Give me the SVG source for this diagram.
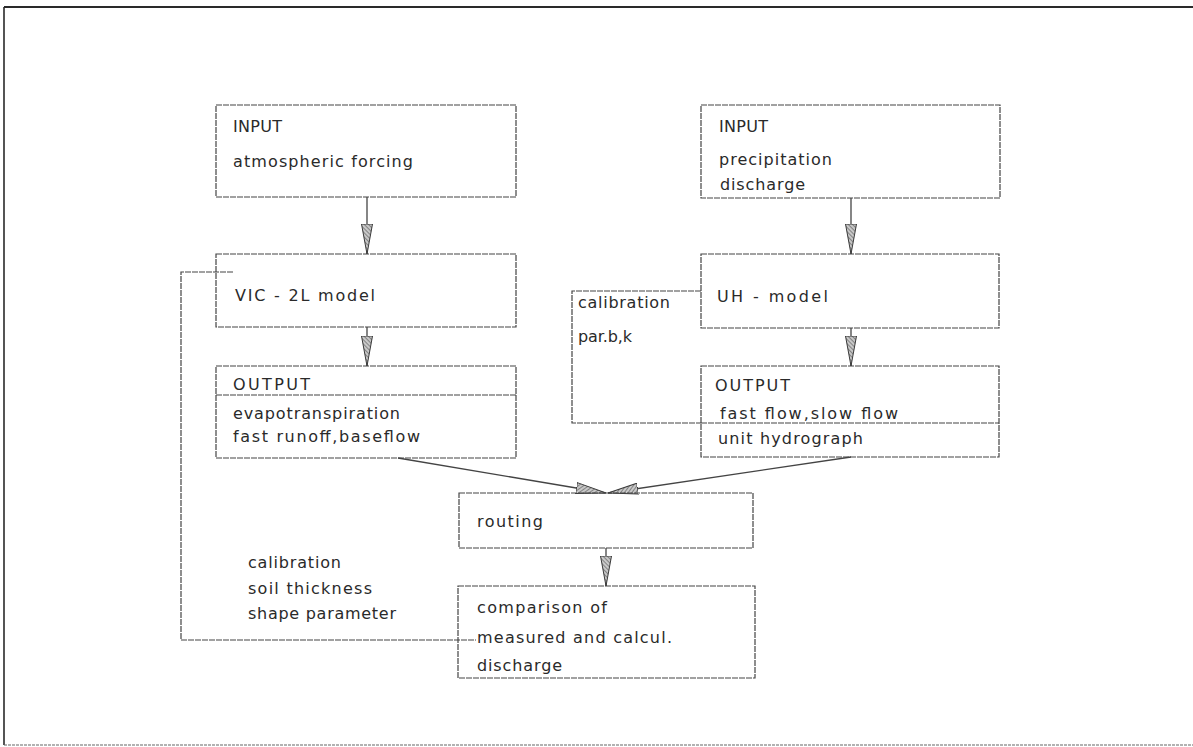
<svg xmlns="http://www.w3.org/2000/svg" width="1193" height="747" viewBox="0 0 1193 747">
<style>
.box{fill:none;stroke:#444;stroke-width:1.2;stroke-dasharray:6 1}
.t{font-family:"DejaVu Sans","Liberation Sans",sans-serif;font-size:16px;fill:#2a2a2a}
.c{fill:none;stroke:#444;stroke-width:1.2;stroke-dasharray:6 1}
.ca{fill:none;stroke:#444;stroke-width:1.3;marker-end:url(#ah)}
</style>
<defs>
<pattern id="hatch" width="3" height="3" patternUnits="userSpaceOnUse" patternTransform="rotate(45)">
<rect width="3" height="3" fill="#c8c8c8"/>
<line x1="0" y1="0" x2="0" y2="3" stroke="#555" stroke-width="1.2"/>
</pattern>
<marker id="ah" viewBox="0 0 30 12" refX="30" refY="6" markerWidth="30" markerHeight="12" markerUnits="userSpaceOnUse" orient="auto">
<path d="M0,0.5 L30,6 L0,11.5 Z" fill="url(#hatch)" stroke="#3a3a3a" stroke-width="1"/>
</marker>
</defs>
<rect width="1193" height="747" fill="#ffffff"/>
<g id="frame">
<line x1="4" y1="7" x2="1193" y2="7" stroke="#2a2a2a" stroke-width="2"/>
<line x1="4" y1="7" x2="4" y2="745" stroke="#2a2a2a" stroke-width="1.6"/>
<line x1="4" y1="745" x2="1193" y2="745" stroke="#666" stroke-width="1.2" stroke-dasharray="3 1"/>
</g>
<g id="connectors">
<line class="ca" x1="367" y1="197" x2="367" y2="254"/>
<line class="ca" x1="851" y1="198" x2="851" y2="254"/>
<line class="ca" x1="367" y1="327" x2="367" y2="366"/>
<line class="ca" x1="851" y1="328" x2="851" y2="366"/>
<line class="ca" x1="398" y1="458" x2="606" y2="493"/>
<line class="ca" x1="851" y1="457" x2="608" y2="493"/>
<line class="ca" x1="606" y1="548" x2="606" y2="586"/>
<polyline class="c" points="233,272 181,272 181,640 476,640"/>
<polyline class="c" points="701,291 572,291 572,423 701,423"/>
</g>
<g id="input-left">
<rect class="box" x="216" y="105" width="300" height="92"/>
<text class="t" x="233" y="132" textLength="49" lengthAdjust="spacing">INPUT</text>
<text class="t" x="233" y="167" textLength="180" lengthAdjust="spacing">atmospheric forcing</text>
</g>
<g id="input-right">
<rect class="box" x="701" y="105" width="299" height="93"/>
<text class="t" x="719" y="132" textLength="49" lengthAdjust="spacing">INPUT</text>
<text class="t" x="719" y="165" textLength="113" lengthAdjust="spacing">precipitation</text>
<text class="t" x="720" y="190" textLength="85" lengthAdjust="spacing">discharge</text>
</g>
<g id="vic-model">
<rect class="box" x="216" y="254" width="300" height="73"/>
<text class="t" x="235" y="301" textLength="140" lengthAdjust="spacing">VIC - 2L model</text>
</g>
<g id="uh-model">
<rect class="box" x="701" y="254" width="298" height="74"/>
<text class="t" x="717" y="302" textLength="111" lengthAdjust="spacing">UH -  model</text>
</g>
<g id="uh-calibration">
<text class="t" x="578" y="308" textLength="92" lengthAdjust="spacing">calibration</text>
<text class="t" x="578" y="342" textLength="54" lengthAdjust="spacing">par.b,k</text>
</g>
<g id="output-left">
<rect class="box" x="216" y="366" width="300" height="92"/>
<line class="box" x1="216" y1="395" x2="516" y2="395"/>
<text class="t" x="233" y="390" textLength="77" lengthAdjust="spacing">OUTPUT</text>
<text class="t" x="233" y="419" textLength="167" lengthAdjust="spacing">evapotranspiration</text>
<text class="t" x="233" y="442" textLength="187" lengthAdjust="spacing">fast runoff,baseflow</text>
</g>
<g id="output-right">
<rect class="box" x="701" y="366" width="298" height="91"/>
<line class="box" x1="701" y1="423" x2="999" y2="423"/>
<text class="t" x="715" y="391" textLength="75" lengthAdjust="spacing">OUTPUT</text>
<text class="t" x="720" y="419" textLength="178" lengthAdjust="spacing">fast flow,slow flow</text>
<text class="t" x="718" y="444" textLength="145" lengthAdjust="spacing">unit hydrograph</text>
</g>
<g id="routing">
<rect class="box" x="459" y="493" width="294" height="55"/>
<text class="t" x="477" y="527" textLength="66" lengthAdjust="spacing">routing</text>
</g>
<g id="vic-calibration">
<text class="t" x="248" y="568" textLength="93" lengthAdjust="spacing">calibration</text>
<text class="t" x="248" y="594" textLength="124" lengthAdjust="spacing">soil thickness</text>
<text class="t" x="248" y="619" textLength="148" lengthAdjust="spacing">shape parameter</text>
</g>
<g id="comparison">
<rect class="box" x="458" y="586" width="297" height="92"/>
<text class="t" x="477" y="613" textLength="130" lengthAdjust="spacing">comparison of</text>
<text class="t" x="477" y="643" textLength="195" lengthAdjust="spacing">measured and calcul.</text>
<text class="t" x="477" y="671" textLength="85" lengthAdjust="spacing">discharge</text>
</g>
</svg>
